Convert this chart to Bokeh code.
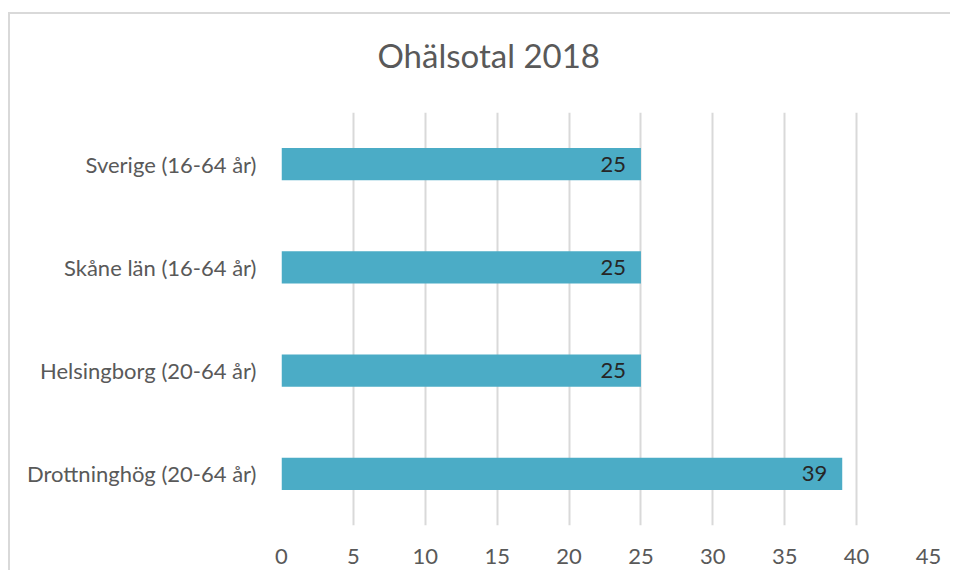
from bokeh.plotting import figure
from bokeh.models import ColumnDataSource, FactorRange, Range1d, FixedTicker, LabelSet, Title
from bokeh.core.properties import value
from bokeh.embed import file_html
from bokeh.resources import INLINE

categories = ["Sverige (16-64 år)", "Skåne län (16-64 år)", "Helsingborg (20-64 år)", "Drottninghög (20-64 år)"]
values = [25, 25, 25, 39]
x_ticks = [0, 5, 10, 15, 20, 25, 30, 35, 40, 45]
title_text = "Ohälsotal 2018"

FONT = "Lato"
factors = list(reversed(categories))
src = ColumnDataSource(dict(cat=categories, val=values, lab=[str(v) for v in values]))

p = figure(y_range=FactorRange(*factors), x_range=Range1d(0, 45),
           frame_width=647, frame_height=413, output_backend="svg", toolbar_location=None,
           min_border_left=271, min_border_right=22, min_border_top=98, min_border_bottom=45,
           title=None)
p.margin = (12, 0, 0, 8)
p.styles = {"border-left": "2px solid #d9d9d9", "border-top": "2px solid #d9d9d9"}

p.hbar(y="cat", right="val", left=0, height=0.31, source=src, color="#4BACC6", line_color=None)

labels = LabelSet(x="val", y="cat", text="lab", source=src, x_offset=-15, text_align="right",
                  text_baseline="middle", text_font=value(FONT), text_font_size="22px",
                  text_color="#262626")
p.add_layout(labels)

p.xaxis.ticker = FixedTicker(ticks=x_ticks)
p.xaxis.axis_line_color = None
p.xaxis.major_tick_line_color = None
p.xaxis.minor_tick_line_color = None
p.xaxis.major_label_text_font = FONT
p.xaxis.major_label_text_font_size = "22px"
p.xaxis.major_label_text_color = "#595959"
p.xaxis.major_label_standoff = 17

p.yaxis.axis_line_color = None
p.yaxis.major_tick_line_color = None
p.yaxis.major_label_text_font = FONT
p.yaxis.major_label_text_font_size = "22px"
p.yaxis.major_label_text_color = "#595959"
p.yaxis.major_label_standoff = 19

p.xgrid.grid_line_color = "#d9d9d9"
p.xgrid.grid_line_width = 2
p.ygrid.grid_line_color = None
p.outline_line_color = None

# spacer panel between the frame and the title (first "above" item sits closest to the frame)
p.add_layout(Title(text=" ", text_font_size="1px", standoff=17), "above")
p.add_layout(Title(text=title_text, align="left", offset=96, standoff=36,
                   text_font=FONT, text_font_size="33px", text_font_style="normal",
                   text_color="#595959"), "above")

open("out.html", "w").write(file_html(p, INLINE))
